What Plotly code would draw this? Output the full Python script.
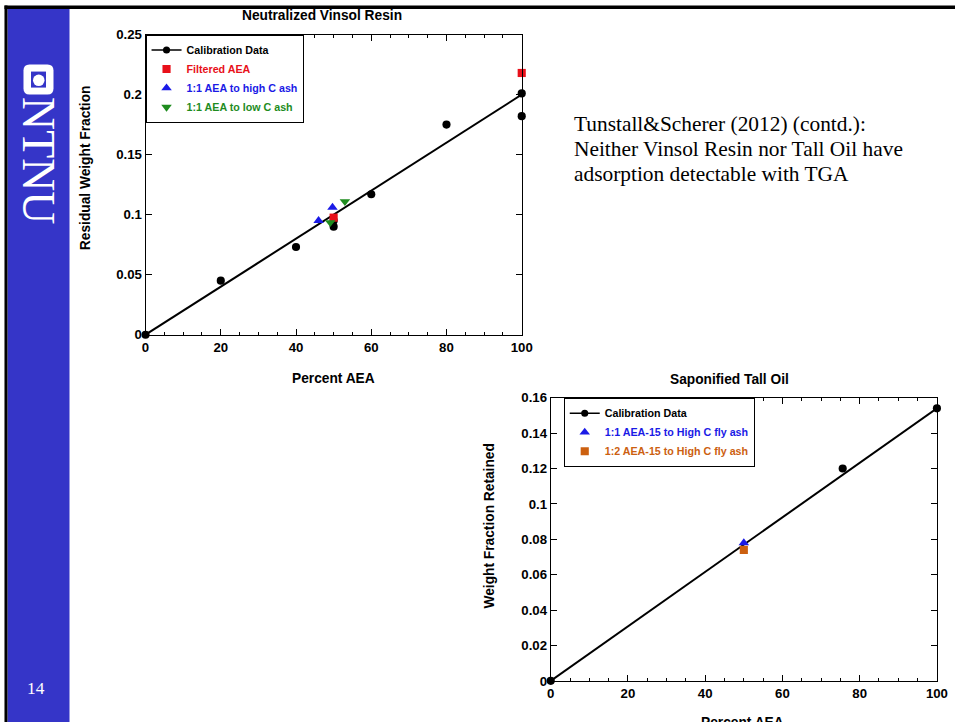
import plotly.graph_objects as go

# ---------------- data: Neutralized Vinsol Resin ----------------
vr_cal_x = [0, 20, 40, 50, 50, 60, 80, 100, 100]
vr_cal_y = [0, 0.045, 0.073, 0.090, 0.095, 0.117, 0.175, 0.201, 0.182]
vr_fit_x = [0, 100]
vr_fit_y = [0, 0.2]
vr_filt_x = [50, 100]
vr_filt_y = [0.0975, 0.218]
vr_high_x = [46, 49.7]
vr_high_y = [0.095, 0.106]
vr_low_x = [49.1, 53]
vr_low_y = [0.0935, 0.111]

# ---------------- data: Saponified Tall Oil ----------------
to_cal_x = [0, 75.6, 100]
to_cal_y = [0, 0.120, 0.154]
to_fit_x = [0, 100]
to_fit_y = [0, 0.154]
to_11_x = [50]
to_11_y = [0.078]
to_12_x = [50]
to_12_y = [0.074]

# layout helpers: positions are given in slide pixels and mapped into the figure
SX, SY = 0.984, 0.979
OX, OY = 4.6, 6.6
W, H = 966, 731
SC = 1 / 0.982


def fx(r):
    return r / SX - OX


def fy(r):
    return r / SY - OY


def px(r):
    return fx(r) / W


def py(r):
    return 1 - fy(r) / H


BLACK = "#000000"
RED = "#e8101a"
BLUE = "#1a1ae6"
GREEN = "#1e8c1e"
ORANGE = "#cc6010"
SIDEBAR = "#3535c8"

fig = go.Figure()

# ---- chart 1 ----
fig.add_trace(go.Scatter(x=vr_fit_x, y=vr_fit_y, mode="lines", line=dict(color=BLACK, width=2),
                         showlegend=False, xaxis="x", yaxis="y", cliponaxis=False, hoverinfo="skip"))
fig.add_trace(go.Scatter(x=[None], y=[None], mode="lines+markers", name="Calibration Data",
                         line=dict(color=BLACK, width=1.5), marker=dict(color=BLACK, size=7 * SC, symbol="circle"),
                         legend="legend", xaxis="x", yaxis="y"))
fig.add_trace(go.Scatter(x=vr_cal_x, y=vr_cal_y, mode="markers", marker=dict(color=BLACK, size=8 * SC),
                         showlegend=False, xaxis="x", yaxis="y", cliponaxis=False))
fig.add_trace(go.Scatter(x=vr_filt_x, y=vr_filt_y, mode="markers",
                         name="<span style='color:%s'>Filtered AEA</span>" % RED,
                         marker=dict(color=RED, size=8 * SC, symbol="square"),
                         legend="legend", xaxis="x", yaxis="y", cliponaxis=False))
fig.add_trace(go.Scatter(x=vr_high_x, y=vr_high_y, mode="markers",
                         name="<span style='color:%s'>1:1 AEA to high C ash</span>" % BLUE,
                         marker=dict(color=BLUE, size=9 * SC, symbol="triangle-up"),
                         legend="legend", xaxis="x", yaxis="y", cliponaxis=False))
fig.add_trace(go.Scatter(x=vr_low_x, y=vr_low_y, mode="markers",
                         name="<span style='color:%s'>1:1 AEA to low C ash</span>" % GREEN,
                         marker=dict(color=GREEN, size=9 * SC, symbol="triangle-down"),
                         legend="legend", xaxis="x", yaxis="y", cliponaxis=False))

# ---- chart 2 ----
fig.add_trace(go.Scatter(x=to_fit_x, y=to_fit_y, mode="lines", line=dict(color=BLACK, width=2),
                         showlegend=False, xaxis="x2", yaxis="y2", cliponaxis=False, hoverinfo="skip"))
fig.add_trace(go.Scatter(x=[None], y=[None], mode="lines+markers", name="Calibration Data",
                         line=dict(color=BLACK, width=1.5), marker=dict(color=BLACK, size=7 * SC, symbol="circle"),
                         legend="legend2", xaxis="x2", yaxis="y2"))
fig.add_trace(go.Scatter(x=to_cal_x, y=to_cal_y, mode="markers", marker=dict(color=BLACK, size=8 * SC),
                         showlegend=False, xaxis="x2", yaxis="y2", cliponaxis=False))
fig.add_trace(go.Scatter(x=to_11_x, y=to_11_y, mode="markers",
                         name="<span style='color:%s'>1:1 AEA-15 to High C fly ash</span>" % BLUE,
                         marker=dict(color=BLUE, size=9 * SC, symbol="triangle-up"),
                         legend="legend2", xaxis="x2", yaxis="y2", cliponaxis=False))
fig.add_trace(go.Scatter(x=to_12_x, y=to_12_y, mode="markers",
                         name="<span style='color:%s'>1:2 AEA-15 to High C fly ash</span>" % ORANGE,
                         marker=dict(color=ORANGE, size=8 * SC, symbol="square"),
                         legend="legend2", xaxis="x2", yaxis="y2", cliponaxis=False))

axis_common = dict(showgrid=False, zeroline=False, showline=True, linecolor=BLACK, linewidth=1,
                   mirror="ticks", ticks="inside", ticklen=6, tickwidth=1, tickcolor=BLACK,
                   tickfont=dict(family="Liberation Sans", size=13 * SC, color=BLACK, weight="bold"))
xminor = dict(dtick=5, ticks="inside", ticklen=3, tickcolor=BLACK, tickwidth=1, showgrid=False)

legend_common = dict(bgcolor="white", bordercolor=BLACK, borderwidth=1, xanchor="left", yanchor="top",
                     font=dict(family="Liberation Sans", size=10.5 * SC, color=BLACK, weight="bold"),
                     tracegroupgap=0, itemwidth=30)

fig.update_layout(
    width=W, height=H, autosize=False,
    margin=dict(l=0, r=0, t=0, b=0),
    paper_bgcolor="white", plot_bgcolor="white",
    font=dict(family="Liberation Sans", size=13, color=BLACK),
    xaxis=dict(domain=[px(146), px(522)], range=[0, 100], dtick=20, minor=xminor, anchor="y", **axis_common),
    yaxis=dict(domain=[py(334), py(34)], range=[0, 0.25], dtick=0.05, anchor="x", **axis_common),
    xaxis2=dict(domain=[px(551), px(937)], range=[0, 100], dtick=20, minor=xminor, anchor="y2", **axis_common),
    yaxis2=dict(domain=[py(680), py(397)], range=[0, 0.16], dtick=0.02, anchor="x2", **axis_common),
    legend=dict(x=px(146), y=py(34), **legend_common),
    legend2=dict(x=px(564), y=py(397), **legend_common),
    showlegend=True,
)

bold = dict(family="Liberation Sans", size=13.5 * SC, color=BLACK, weight="bold")
serif = dict(family="Liberation Serif", size=21 * SC, color=BLACK)
anns = [
    dict(text="Neutralized Vinsol Resin", x=px(322), y=py(15), font=bold),
    dict(text="Percent AEA", x=px(334), y=py(378), font=bold),
    dict(text="Residual Weight Fraction", x=px(86), y=py(167), font=bold, textangle=-90),
    dict(text="Saponified Tall Oil", x=px(730), y=py(379), font=bold),
    dict(text="Weight Fraction Retained", x=px(490), y=py(525), font=bold, textangle=-90),
    dict(text="Percent AEA", x=px(743), y=py(712), font=bold, yanchor="top"),
    dict(text="Tunstall&Scherer (2012) (contd.):", x=px(572), y=py(123), font=serif, xanchor="left"),
    dict(text="Neither Vinsol Resin nor Tall Oil have", x=px(572), y=py(148), font=serif, xanchor="left"),
    dict(text="adsorption detectable with TGA", x=px(572), y=py(173), font=serif, xanchor="left"),
    dict(text="NTNU", x=px(39), y=py(160), textangle=90,
         font=dict(family="Liberation Serif", size=45 * SC, color="white")),
    dict(text="14", x=px(37), y=py(688), font=dict(family="Liberation Serif", size=17 * SC, color="white")),
]
for a in anns:
    a.setdefault("xanchor", "center")
    a.setdefault("yanchor", "middle")
    fig.add_annotation(xref="paper", yref="paper", showarrow=False, **a)


def rounded_rect(x0, y0, x1, y1, r):
    return (f"M {px(x0 + r)} {py(y0)} L {px(x1 - r)} {py(y0)} Q {px(x1)} {py(y0)} {px(x1)} {py(y0 + r)} "
            f"L {px(x1)} {py(y1 - r)} Q {px(x1)} {py(y1)} {px(x1 - r)} {py(y1)} "
            f"L {px(x0 + r)} {py(y1)} Q {px(x0)} {py(y1)} {px(x0)} {py(y1 - r)} "
            f"L {px(x0)} {py(y0 + r)} Q {px(x0)} {py(y0)} {px(x0 + r)} {py(y0)} Z")


shapes = [
    dict(type="rect", x0=px(8), x1=px(70), y0=0, y1=py(8), fillcolor=SIDEBAR, line=dict(width=0), layer="below"),
    dict(type="rect", x0=px(5), x1=px(8), y0=0, y1=py(5), fillcolor=BLACK, line=dict(width=0)),
    dict(type="rect", x0=px(5), x1=1, y0=py(8.5), y1=py(5), fillcolor=BLACK, line=dict(width=0)),
    dict(type="path", path=rounded_rect(24, 64, 54, 94, 6), fillcolor="white", line=dict(width=0)),
    dict(type="rect", x0=px(31.5), x1=px(46.5), y0=py(87), y1=py(71), fillcolor=SIDEBAR, line=dict(width=0)),
    dict(type="circle", x0=px(33.5), x1=px(45), y0=py(85.5), y1=py(74), fillcolor="white", line=dict(width=0)),
]
for s in shapes:
    fig.add_shape(xref="paper", yref="paper", **s)

fig.write_html("out.html", config={"displayModeBar": False},
               post_script="document.body.style.margin='0';document.body.style.overflow='hidden';")
